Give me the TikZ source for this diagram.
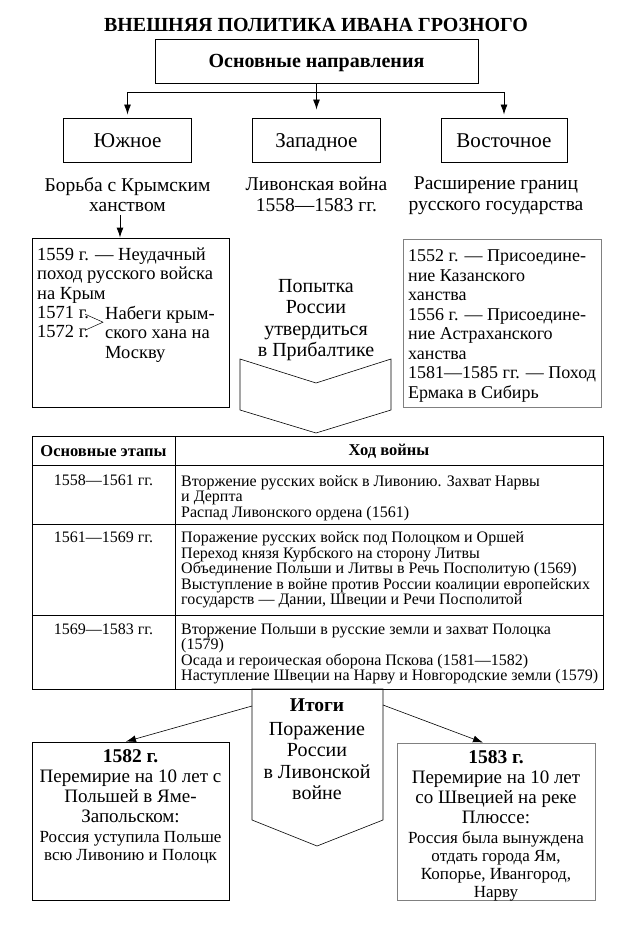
\documentclass[tikz,border=0pt]{standalone}
\usepackage{fontspec}
\setmainfont{Liberation Serif}
\usepackage{tikz}
\usetikzlibrary{arrows.meta}
\usetikzlibrary{positioning}
\usetikzlibrary{calc}
\tikzset{basic box/.style={draw,line width=0.9pt,inner sep=0pt}}
\tikzset{dir box/.style={basic box,minimum height=44pt,text height=14pt,text depth=0pt}}
\tikzset{plain text/.style={inner sep=0pt,align=center}}
\tikzset{left text/.style={inner sep=0pt,align=left}}
\tikzset{edge/.style={draw,line width=0.9pt,-{Latex[length=10pt,width=7pt]}}}
\tikzset{thin edge/.style={draw,line width=0.6pt,-{Latex[length=10pt,width=7pt]}}}
\newcommand{\FS}[2]{\fontsize{#1}{#2}\selectfont}

\begin{document}
\begin{tikzpicture}
      [
      x=1pt,y=-1pt,
      box text/.style={left text,font=\FS{18.5}{19.5}},
      cell text/.style={inner sep=0pt,font=\FS{16}{15.5}},
      shape line/.style={draw,line width=0.6pt},
      ]
      \useasboundingbox (0,0) rectangle (643,931);

      % title and directions
      \node [font=\bfseries\FS{20}{24},anchor=base] (title) at (316,31.5)
      {ВНЕШНЯЯ ПОЛИТИКА ИВАНА ГРОЗНОГО};
      \node [dir box,minimum width=323pt,text height=13.5pt,font=\bfseries\FS{20}{24}] (dir) at (316.5,61)
      {Основные направления};

      \foreach \n/\x/\w/\t in
      {
      dsouth/127.5/128/Южное,
      dwest/316.5/128/Западное,
      deast/504/126/Восточное
      }
      {
      \node [dir box,minimum width=\w pt,font=\FS{21}{24}] (\n) at (\x,140) {\t};
      }

      \node [plain text,font=\FS{19.5}{20.5},below=14.5pt of dsouth] (tsouth)
      {Борьба с Крымским\\ханством};
      \node [plain text,font=\FS{19.5}{20.5},below=14.5pt of dwest] (twest)
      {Ливонская война\\1558—1583 гг.};
      \node [plain text,font=\FS{19.5}{20.5},below=14.5pt of deast,xshift=-8pt] (teast)
      {Расширение границ\\русского государства};

      % edges
      \draw [line width=0.9pt] (dir.south) -- ++(0,9) coordinate (fork);
      \draw [edge] (fork) -| ([yshift=3pt]dsouth.north);
      \draw [edge] (fork) -- ([yshift=8pt]dwest.north);
      \draw [edge] (fork) -| ([yshift=3pt]deast.north);

      % south: crimea
      \node [basic box,minimum width=197pt,minimum height=169pt] (raids) at (130.5,322.5) {};
      \draw [edge] ([xshift=-7.5pt,yshift=-3pt]tsouth.south) -- ([xshift=-7.5pt]tsouth.south |- raids.north);
      \node [box text,anchor=north west] (raid1) at (37,247.5)
      {1559 г. — Неудачный\\поход русского войска\\на Крым};
      \node [box text,anchor=north west] (years) at (37,306) {1571 г.\\1572 г.};
      \node [box text,anchor=north west] (khan) at (105,306)
      {Набеги крым-\\ского хана на\\Москву};
      \draw [line width=0.5pt] ([xshift=-4pt,yshift=8pt]years.east) --
      ([xshift=-2pt]khan.west |- years.east) -- ([xshift=-4pt,yshift=-8pt]years.east);

      % west: baltic
      \node [plain text,font=\FS{20}{21.5},anchor=north] (baltic) at (316,279)
      {Попытка\\России\\утвердиться\\в Прибалтике};
      \path [shape line] (240,359) -- (316,383) -- (391,359) -- (391,410) -- (316,433) -- (240,410) -- cycle;

      % east: annexations
      \node [basic box,draw=gray,minimum width=198pt,minimum height=168pt] (annex) at (502,323) {};
      \node [box text,font=\FS{18}{19.5},anchor=north west] (annex1) at (408,249.5)
      {1552 г. — Присоедине-\\ние Казанского\\ханства\\1556 г. — Присоедине-\\ние Астраханского\\ханства\\1581—1585 гг. — Поход\\Ермака в Сибирь};

      % table
      \draw [line width=0.9pt] (32,436) rectangle (603,689);
      \foreach \y in {465,524,615}
      {
      \draw [line width=0.9pt] (32,\y) -- (603,\y);
      }
      \draw [line width=0.9pt] (175,436) -- (175,689);
      \node [font=\bfseries\FS{16.5}{18}] (hstage) at (103.5,451) {Основные этапы};
      \node [font=\bfseries\FS{16.5}{18}] (hcourse) at (389,451) {Ход войны};

      \foreach \y/\yr [count=\i] in {475/1558—1561 гг.,531.5/1561—1569 гг.,623.5/1569—1583 гг.}
      {
      \node [cell text,anchor=north] (yr\i) at (103.5,\y) {\yr};
      }
      \node [cell text,align=left,anchor=north west] (ev1) at (181,475)
      {Вторжение русских войск в Ливонию. Захват Нарвы\\и Дерпта\\Распад Ливонского ордена (1561)};
      \node [cell text,align=left,anchor=north west] (ev2) at (181,531.5)
      {Поражение русских войск под Полоцком и Оршей\\Переход князя Курбского на сторону Литвы\\Объединение Польши и Литвы в Речь Посполитую (1569)\\Выступление в войне против России коалиции европейских\\государств — Дании, Швеции и Речи Посполитой};
      \node [cell text,align=left,anchor=north west] (ev3) at (181,623.5)
      {Вторжение Польши в русские земли и захват Полоцка\\(1579)\\Осада и героическая оборона Пскова (1581—1582)\\Наступление Швеции на Нарву и Новгородские земли (1579)};

      % results
      \path [shape line] (252,689) -- (383,689) -- (383,820) -- (317,846) -- (252,820) -- cycle;
      \coordinate (resW) at (252,706);
      \coordinate (resE) at (383,705);
      \node [plain text,font=\bfseries\FS{19.5}{21},anchor=north] (res) at (317,699) {Итоги};
      \node [plain text,font=\FS{20}{21.5},anchor=north] (res1) at (317,722)
      {Поражение\\России\\в Ливонской\\войне};

      % treaties
      \node [basic box,minimum width=197pt,minimum height=158pt] (treaty1) at (130.5,821) {};
      \node [basic box,draw=gray,minimum width=198pt,minimum height=157pt] (treaty2) at (496,821.5) {};

      \node [plain text,font=\bfseries\FS{19.5}{21},anchor=north] (head1) at (130.5,749) {1582 г.};
      \node [plain text,font=\FS{19}{20},anchor=north] (main1) at (130.5,769.5)
      {Перемирие на 10 лет с\\Польшей в Яме-\\Запольском:};
      \node [plain text,font=\FS{17}{18},anchor=north] (note1) at (130.5,830.7)
      {Россия уступила Польше\\всю Ливонию и Полоцк};

      \node [plain text,font=\bfseries\FS{19.5}{21},anchor=north] (head2) at (496,750) {1583 г.};
      \node [plain text,font=\FS{19}{20},anchor=north] (main2) at (496,770.5)
      {Перемирие на 10 лет\\со Швецией на реке\\Плюссе:};
      \node [plain text,font=\FS{17}{18.3},anchor=north] (note2) at (496,830.7)
      {Россия была вынуждена\\отдать города Ям,\\Копорье, Ивангород,\\Нарву};

      \draw [thin edge] (resW) -- ([xshift=-4.5pt]treaty1.north);
      \draw [thin edge] (resE) -- ([xshift=-13pt]treaty2.north);

    \end{tikzpicture}
\end{document}
